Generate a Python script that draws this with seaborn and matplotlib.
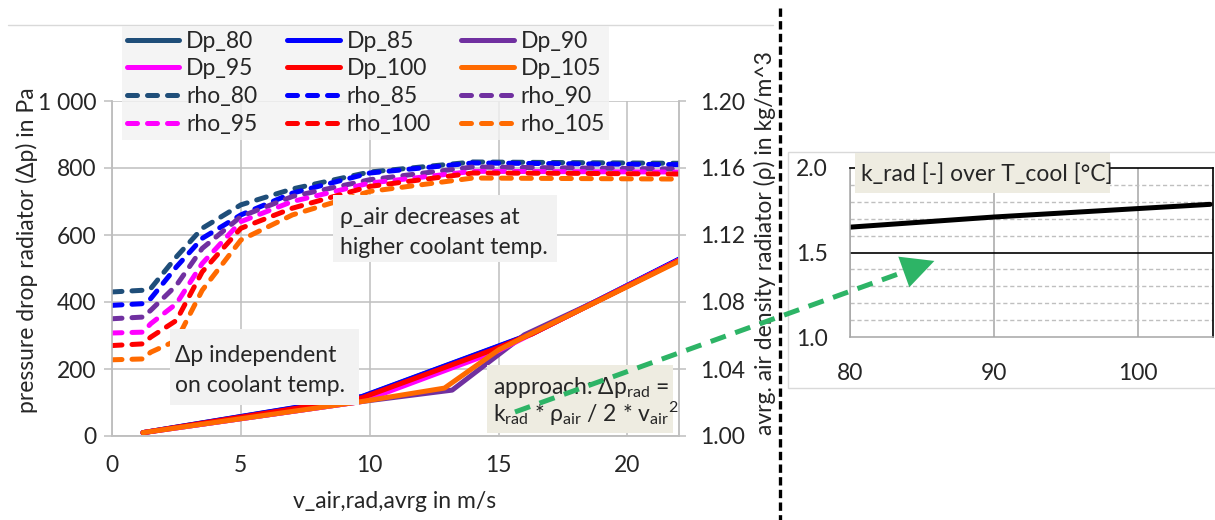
import numpy as np
import pandas as pd
import seaborn as sns
import matplotlib
matplotlib.use("Agg")
import matplotlib.pyplot as plt
from matplotlib.lines import Line2D
from matplotlib.patches import Rectangle, FancyArrowPatch
from matplotlib.ticker import FuncFormatter, MultipleLocator

# ---------------------------------------------------------------- data
temps = [80, 85, 90, 95, 100, 105]
colors = ["#1F4E79", "#0000FF", "#7030A0", "#FF00FF", "#FF0000", "#FF6A00"]

# pressure drop over the radiator, Pa, against air velocity, m/s
v_dp_80 = [1.2, 9.7, 14.8, 16.3, 19.0, 22.0]
dp_80 = [10, 117, 262, 305, 410, 527]
v_dp_85 = [1.2, 9.7, 14.8, 16.3, 19.0, 22.0]
dp_85 = [10, 118, 263, 306, 411, 528]
v_dp_90 = [1.2, 9.7, 13.2, 16.0, 19.0, 22.0]
dp_90 = [10, 103, 137, 302, 410, 525]
v_dp_95 = [1.2, 9.7, 15.0, 16.3, 19.0, 22.0]
dp_95 = [10, 103, 255, 305, 409, 525]
v_dp_100 = [1.2, 9.7, 14.8, 16.3, 19.0, 22.0]
dp_100 = [10, 114, 258, 305, 409, 524]
v_dp_105 = [1.2, 9.7, 12.9, 15.0, 16.3, 19.0, 22.0]
dp_105 = [10, 103, 143, 257, 307, 408, 522]

# average air density in the radiator, kg/m^3
v_rho = [0, 1.2, 1.5, 2.5, 3.5, 5, 7, 10, 14, 18, 22]
rho_80 = [1.086, 1.087, 1.088, 1.107, 1.124, 1.138, 1.1475, 1.1576, 1.1636, 1.1632, 1.1628]
rho_85 = [1.078, 1.079, 1.082, 1.101, 1.118, 1.132, 1.145, 1.157, 1.1630, 1.1625, 1.1620]
rho_90 = [1.070, 1.071, 1.075, 1.090, 1.112, 1.131, 1.143, 1.153, 1.1606, 1.1600, 1.1594]
rho_95 = [1.0615, 1.062, 1.067, 1.079, 1.103, 1.128, 1.140, 1.151, 1.1580, 1.1578, 1.1576]
rho_100 = [1.054, 1.055, 1.059, 1.069, 1.098, 1.124, 1.136, 1.149, 1.1570, 1.1568, 1.1564]
rho_105 = [1.0455, 1.046, 1.050, 1.057, 1.087, 1.117, 1.132, 1.146, 1.1540, 1.1537, 1.1534]

# radiator loss coefficient over coolant temperature
t_cool = [80, 85, 90, 95, 100, 105]
k_rad = [1.65, 1.68, 1.71, 1.735, 1.76, 1.785]

dp_series = [(v_dp_80, dp_80), (v_dp_85, dp_85), (v_dp_90, dp_90),
             (v_dp_95, dp_95), (v_dp_100, dp_100), (v_dp_105, dp_105)]
rho_series = [rho_80, rho_85, rho_90, rho_95, rho_100, rho_105]

# ---------------------------------------------------------------- style
sns.set_theme(style="white")
plt.rcParams["font.family"] = ["Lato", "DejaVu Sans"]
plt.rcParams["mathtext.fontset"] = "custom"
plt.rcParams["mathtext.rm"] = "Lato"
plt.rcParams["mathtext.it"] = "Lato:italic"
plt.rcParams["mathtext.sf"] = "Lato"

W, H = 1215, 520
FS = 16.5
TXT = "#262626"
GRID = "#BFBFBF"
DASH = (0, (2.0, 2.0))


def fx(px):
    return px / W


def fy(py):
    return 1 - py / H


fig = plt.figure(figsize=(W / 100, H / 100), dpi=100)

# ---------------------------------------------------------------- main chart
ax = fig.add_axes([fx(112), fy(436), fx(679) - fx(112), fy(101) - fy(436)])
ax2 = ax.twinx()

for (v, dp), c, t in zip(dp_series, colors, temps):
    sns.lineplot(x=v, y=dp, ax=ax, color=c, linewidth=3.6, estimator=None,
                 sort=False, legend=False, solid_capstyle="round")

for rho, c, t in zip(rho_series, colors, temps):
    sns.lineplot(x=v_rho, y=rho, ax=ax2, color=c, linewidth=3.6, estimator=None,
                 sort=False, legend=False, linestyle=DASH, dash_capstyle="round")

ax.set_xlim(0, 22)
ax.set_ylim(0, 1000)
ax2.set_ylim(1.0, 1.2)
ax.set_xticks([0, 5, 10, 15, 20])
ax.set_yticks(range(0, 1001, 200))
ax2.set_yticks([1.00, 1.04, 1.08, 1.12, 1.16, 1.20])
ax.yaxis.set_major_formatter(FuncFormatter(lambda v, p: f"{int(v):,}".replace(",", " ")))
ax2.yaxis.set_major_formatter(FuncFormatter(lambda v, p: f"{v:.2f}"))

ax.grid(True, color=GRID, linewidth=1.1)
ax.set_axisbelow(True)
for a in (ax, ax2):
    for s in a.spines.values():
        s.set_color(GRID)
        s.set_linewidth(1.1)
    a.spines["top"].set_visible(False)
    a.set_xlabel("")
    a.set_ylabel("")
ax.tick_params(axis="both", direction="out", length=6, width=1.1, color=GRID,
               labelsize=FS, labelcolor=TXT, pad=5)
ax.tick_params(axis="x", pad=8)
ax2.tick_params(axis="y", direction="out", length=5, width=1.1, color=GRID,
                labelsize=FS, labelcolor=TXT, pad=10)

fig.text(fx(27), fy(250), "pressure drop radiator (\u0394p) in Pa", rotation=90,
         ha="center", va="center", fontsize=FS, color=TXT)
fig.text(fx(765), fy(243), "avrg. air density radiator (\u03c1) in kg/m^3", rotation=90,
         ha="center", va="center", fontsize=FS, color=TXT)
fig.text(fx(395), fy(502), "v_air,rad,avrg in m/s", ha="center", va="center",
         fontsize=FS, color=TXT)

# legend, filled row by row
handles = {}
for c, t in zip(colors, temps):
    handles[f"Dp_{t}"] = Line2D([], [], color=c, linewidth=3.6, solid_capstyle="round")
    handles[f"rho_{t}"] = Line2D([], [], color=c, linewidth=3.6, linestyle=DASH,
                                 dash_capstyle="round")
rows = [[f"Dp_{t}" for t in temps[:3]], [f"Dp_{t}" for t in temps[3:]],
        [f"rho_{t}" for t in temps[:3]], [f"rho_{t}" for t in temps[3:]]]
order = [rows[r][c] for c in range(3) for r in range(4)]
leg = fig.legend([handles[k] for k in order], order, ncol=3, loc="upper left",
                 bbox_to_anchor=(fx(122), fy(26)), fontsize=FS, frameon=True,
                 fancybox=False, handlelength=2.3, handletextpad=0.3,
                 columnspacing=1.3, labelspacing=0.3, borderpad=0.2,
                 borderaxespad=0)
leg.get_frame().set_facecolor("#F2F2F2")
leg.get_frame().set_edgecolor("none")
for t in leg.get_texts():
    t.set_color(TXT)
leg.set_zorder(6)


def box(x0, y0, x1, y1, color):
    fig.add_artist(Rectangle((fx(x0), fy(y1)), fx(x1) - fx(x0), fy(y0) - fy(y1),
                             transform=fig.transFigure, facecolor=color,
                             edgecolor="none", zorder=5))


box(333, 195, 557, 262, "#F2F2F2")
fig.text(fx(340), fy(217), "\u03c1_air decreases at", va="center", ha="left",
         fontsize=FS, color=TXT, zorder=6)
fig.text(fx(340), fy(247), "higher coolant temp.", va="center", ha="left",
         fontsize=FS, color=TXT, zorder=6)

box(170, 329, 359, 405, "#F2F2F2")
fig.text(fx(175), fy(355), "\u0394p independent", va="center", ha="left",
         fontsize=FS, color=TXT, zorder=6)
fig.text(fx(175), fy(385), "on coolant temp.", va="center", ha="left",
         fontsize=FS, color=TXT, zorder=6)

box(487, 365, 673, 433, "#EEECE1")
fig.text(fx(493), fy(387), "approach: \u0394p$_{\\mathrm{rad}}$ =", va="center",
         ha="left", fontsize=FS, color=TXT, zorder=6)
fig.text(fx(493), fy(414),
         "k$_{\\mathrm{rad}}$ * \u03c1$_{\\mathrm{air}}$ / 2 * v$_{\\mathrm{air}}$$^{2}$",
         va="center", ha="left", fontsize=FS, color=TXT, zorder=6)

# thin chart border at the top
fig.add_artist(Line2D([fx(8), fx(773)], [fy(25), fy(25)], transform=fig.transFigure,
                      color="#D9D9D9", linewidth=1.0))

# ---------------------------------------------------------------- k_rad inset
fig.add_artist(Rectangle((fx(788), fy(388)), fx(1216) - fx(788), fy(152) - fy(388),
                         transform=fig.transFigure, facecolor="white",
                         edgecolor="#D9D9D9", linewidth=1.0, zorder=0.5))
ax3 = fig.add_axes([fx(850), fy(337), fx(1213) - fx(850), fy(168) - fy(337)])
ax3.set_zorder(1)
sns.lineplot(x=t_cool, y=k_rad, ax=ax3, color="black", linewidth=3.6,
             estimator=None, sort=False, legend=False)
ax3.set_xlim(80, 105.2)
ax3.set_ylim(1.0, 2.0)
ax3.set_xticks([80, 90, 100])
ax3.set_yticks([1.0, 1.5, 2.0])
ax3.yaxis.set_major_formatter(FuncFormatter(lambda v, p: f"{v:.1f}"))
ax3.yaxis.set_minor_locator(MultipleLocator(0.1))
ax3.grid(True, axis="x", color="#A6A6A6", linewidth=1.1)
ax3.grid(True, axis="y", which="minor", color="#BFBFBF", linewidth=1.0,
         linestyle=(0, (3, 2)))
ax3.axhline(1.5, color="black", linewidth=1.2, zorder=1.5)
ax3.set_axisbelow(True)
ax3.set_xlabel("")
ax3.set_ylabel("")
for s in ("left", "bottom"):
    ax3.spines[s].set_color("#A6A6A6")
    ax3.spines[s].set_linewidth(1.1)
for s in ("top", "right"):
    ax3.spines[s].set_color("black")
    ax3.spines[s].set_linewidth(1.2)
ax3.tick_params(axis="both", which="major", direction="out", length=6, width=1.1,
                color="#A6A6A6", labelsize=FS, labelcolor=TXT)
ax3.tick_params(axis="y", which="minor", length=0)
ax3.tick_params(axis="y", pad=10)
ax3.tick_params(axis="x", pad=13)

box(855, 153, 1110, 193, "#EEECE1")
fig.text(fx(861), fy(174), "k_rad [-] over T_cool [\u00b0C]", va="center", ha="left",
         fontsize=FS, color=TXT, zorder=6)

# ---------------------------------------------------------------- divider and arrow
fig.add_artist(Line2D([fx(780), fx(780)], [fy(8), fy(522)], transform=fig.transFigure,
                      color="black", linewidth=2.4, linestyle=(0, (2.5, 1.3)),
                      zorder=7))

GREEN = "#2DB466"
x0, y0, x1, y1 = 515, 412, 937, 260
d = np.hypot(x1 - x0, y1 - y0)
ux, uy = (x1 - x0) / d, (y1 - y0) / d
hx, hy = x1 - 20 * ux, y1 - 20 * uy
fig.add_artist(Line2D([fx(x0), fx(hx)], [fy(y0), fy(hy)], transform=fig.transFigure,
                      color=GREEN, linewidth=3.6, linestyle=(0, (3.2, 2.0)), zorder=10))
fig.add_artist(FancyArrowPatch((fx(hx - 2 * ux), fy(hy - 2 * uy)), (fx(x1), fy(y1)),
                               transform=fig.transFigure,
                               arrowstyle="-|>,head_length=1.3,head_width=0.65",
                               mutation_scale=18, color=GREEN, linewidth=0, zorder=10))

fig.savefig("out.png", dpi=100)
